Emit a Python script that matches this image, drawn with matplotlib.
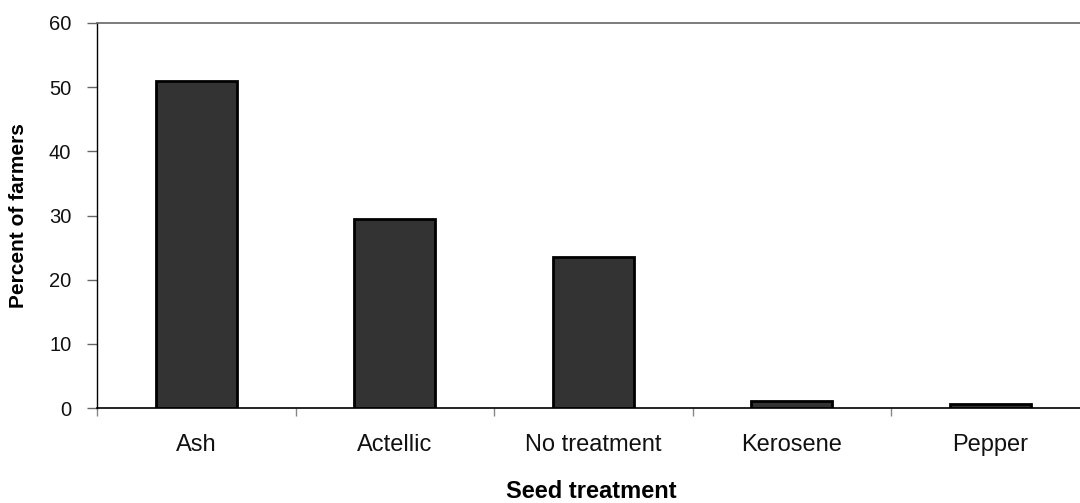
import matplotlib
matplotlib.use("Agg")
import matplotlib.pyplot as plt
import numpy as np

categories = ["Ash", "Actellic", "No treatment", "Kerosene", "Pepper"]
values = [51.0, 29.5, 23.5, 1.1, 0.6]
yticks = [0, 10, 20, 30, 40, 50, 60]

plt.rcParams['font.family'] = ['Liberation Sans', 'DejaVu Sans']

fig = plt.figure(figsize=(10.8, 5.03), dpi=100)
ax = fig.add_axes([97/1080, 1-408/503, 992.5/1080, 385/503])

x = np.arange(len(categories))
ax.bar(x, values, width=0.41, color="#333333", edgecolor="black", linewidth=2, zorder=3)

ax.set_xlim(-0.5, len(categories)-0.5)
ax.set_ylim(0, 60)
ax.set_yticks(yticks)
ax.set_yticklabels([str(v) for v in yticks], fontsize=14.5, color="#111111")
ax.set_xticks(x)
ax.set_xticklabels(categories, fontsize=17, color="#111111")
ax.tick_params(axis='x', which='major', length=0, pad=18.5)
ax.set_xticks(np.arange(len(categories)+1)-0.5, minor=True)
ax.tick_params(axis='x', which='minor', length=6, color="#888888", width=1)
ax.tick_params(axis='y', length=7, color="#666666", width=1, pad=11.5)

ax.spines['left'].set_color("black")
ax.spines['bottom'].set_color("black")
ax.spines['left'].set_linewidth(1)
ax.spines['bottom'].set_linewidth(1.2)
ax.spines['top'].set_color("#666666")
ax.spines['top'].set_linewidth(1.2)
ax.spines['right'].set_visible(False)

ax.set_ylabel("Percent of farmers", fontsize=15, fontweight='bold')
ax.set_xlabel("Seed treatment", fontsize=17, fontweight='bold')
ax.yaxis.set_label_coords(-(97-19)/992.5, 0.5)
ax.xaxis.set_label_coords(0.498, -(491-408)/385)
ax.xaxis.label.set_va('center')
ax.yaxis.label.set_va('center')

fig.savefig("out.png", dpi=100)
